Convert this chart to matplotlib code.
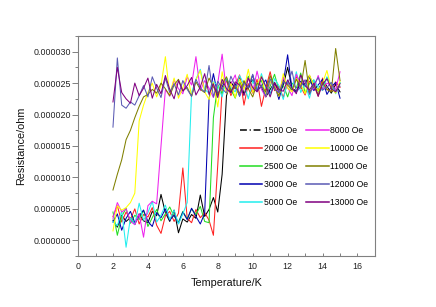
import numpy as np
import matplotlib
matplotlib.use('Agg')
import matplotlib.pyplot as plt
from matplotlib.lines import Line2D
from matplotlib.ticker import MultipleLocator, FormatStrFormatter

plt.rcParams['font.family'] = ['Liberation Sans', 'DejaVu Sans']

# temperature grid (K)
temperature = [2.0, 2.25, 2.5, 2.75, 3.0, 3.25, 3.5, 3.75, 4.0, 4.25,
               4.5, 4.75, 5.0, 5.25, 5.5, 5.75, 6.0, 6.25, 6.5, 6.75,
               7.0, 7.25, 7.5, 7.75, 8.0, 8.25, 8.5, 8.75, 9.0, 9.25,
               9.5, 9.75, 10.0, 10.25, 10.5, 10.75, 11.0, 11.25, 11.5, 11.75,
               12.0, 12.25, 12.5, 12.75, 13.0, 13.25, 13.5, 13.75, 14.0, 14.25,
               14.5, 14.75, 15.0]

# resistance in micro-ohm, one list per field
r_1500 = [3.2, 2.1, 4.0, 3.0, 3.6, 2.5, 4.2, 3.1, 2.8, 4.6,
          3.9, 7.3, 4.4, 3.0, 4.8, 1.2, 3.4, 2.9, 4.1, 3.5,
          7.2, 3.8, 4.9, 6.8, 4.5, 10.5, 23.0, 25.2, 24.1, 26.0,
          23.2, 24.7, 25.5, 23.9, 24.4, 22.8, 24.0, 25.1, 23.5, 24.6,
          27.5, 24.2, 23.7, 25.0, 24.9, 26.2, 24.3, 23.8, 25.4, 24.5,
          23.4, 24.8, 23.6]
r_2000 = [3.8, 5.5, 2.9, 4.5, 3.3, 5.0, 2.6, 4.1, 3.7, 5.2,
          2.4, 1.1, 3.9, 4.6, 3.0, 4.3, 11.5, 3.5, 2.8, 4.9,
          3.6, 4.4, 3.2, 0.8, 12.0, 24.0, 25.4, 23.0, 24.6, 26.3,
          21.5, 24.9, 23.4, 25.6, 21.3, 24.2, 26.8, 23.8, 24.5, 22.7,
          25.1, 23.9, 26.0, 24.4, 23.1, 25.3, 24.7, 22.9, 25.8, 24.0,
          23.7, 25.2, 24.3]
r_2500 = [4.5, 0.8, 3.8, 5.1, 2.7, 4.0, 3.3, 4.8, 2.2, 3.6,
          4.9, 3.1, 4.2, 5.3, 3.8, 2.9, 4.6, 3.4, 5.0, 4.1,
          5.4, 3.0, 2.8, 19.5, 24.8, 23.3, 25.7, 24.0, 22.6, 25.1,
          24.3, 26.1, 23.6, 24.8, 25.4, 23.0, 24.5, 26.4, 23.9, 24.7,
          22.8, 25.0, 24.2, 26.6, 23.4, 24.9, 25.5, 23.7, 24.1, 25.9,
          24.6, 23.5, 25.0]
r_3000 = [2.9, 4.2, 1.6, 3.5, 4.6, 2.8, 3.9, 4.8, 3.0, 2.2,
          4.4, 3.6, 5.0, 3.2, 4.0, 2.7, 4.5, 3.3, 5.1, 3.8,
          2.6, 4.3, 22.5, 26.5, 23.1, 24.4, 25.8, 23.5, 24.9, 22.9,
          25.2, 24.1, 26.3, 23.7, 24.6, 25.5, 23.3, 24.8, 22.4, 25.0,
          29.5, 24.0, 23.6, 25.3, 24.5, 26.0, 23.8, 24.7, 25.6, 23.2,
          24.4, 25.1, 22.6]
r_5000 = [3.0, 2.3, 4.7, -1.1, 3.6, 2.5, 5.9, 3.2, 4.4, 6.2,
          2.9, 4.0, 5.6, 3.3, 4.8, 2.6, 4.2, 6.0, 23.5, 25.6,
          27.2, 24.0, 23.4, 25.2, 24.6, 22.8, 25.9, 24.3, 23.6, 26.2,
          24.8, 22.5, 25.4, 23.9, 26.5, 24.2, 23.1, 25.7, 24.6, 22.4,
          25.3, 24.0, 26.8, 23.5, 24.9, 22.6, 25.5, 24.4, 23.8, 26.0,
          24.7, 23.3, 25.1]
r_8000 = [3.5, 6.0, 4.5, 5.0, 3.0, 2.5, 4.2, 0.5, 5.5, 6.2,
          5.8, 15.0, 24.0, 22.9, 25.5, 24.1, 23.3, 26.0, 24.7, 29.2,
          23.8, 25.4, 24.2, 22.7, 25.0, 29.6, 23.5, 24.8, 26.3, 23.1,
          24.5, 25.8, 23.6, 26.9, 24.0, 22.8, 25.2, 24.6, 23.4, 25.9,
          24.3, 23.0, 26.4, 24.8, 25.5, 23.7, 24.1, 26.2, 23.9, 25.0,
          24.6, 24.0, 26.8]
r_10000 = [1.5, 5.5, 4.8, 5.2, 6.0, 7.5, 19.0, 21.5, 23.5, 25.0,
           22.8, 24.6, 29.2, 23.2, 25.8, 22.6, 24.3, 26.4, 23.0, 25.5,
           27.0, 23.6, 22.4, 25.1, 21.2, 26.8, 23.3, 24.9, 22.7, 25.6,
           24.0, 27.2, 23.5, 24.8, 26.1, 23.0, 25.3, 24.4, 22.9, 26.5,
           24.2, 23.6, 25.7, 24.9, 23.3, 26.3, 24.5, 23.8, 25.0, 27.0,
           24.1, 23.4, 25.3]
r_11000 = [8.0, 10.5, 12.8, 16.0, 17.5, 19.5, 21.3, 22.8, 23.2, 24.0,
           23.4, 25.0, 24.1, 23.0, 24.7, 25.6, 23.8, 24.3, 22.9, 25.2,
           24.0, 23.5, 25.8, 24.4, 23.2, 24.9, 26.0, 23.7, 24.6, 23.3,
           25.4, 24.1, 22.8, 25.0, 24.5, 23.6, 26.2, 24.3, 23.0, 25.3,
           24.7, 23.9, 25.6, 24.2, 28.6, 23.4, 24.8, 23.1, 25.1, 24.0,
           23.6, 30.5, 25.4]
r_12000 = [18.0, 29.0, 21.5, 21.0, 22.0, 21.5, 23.0, 24.6, 22.8, 26.0,
           24.2, 22.7, 25.8, 23.5, 24.9, 23.1, 25.4, 24.0, 22.9, 25.6,
           24.2, 23.6, 27.8, 22.8, 25.3, 24.1, 23.4, 26.1, 24.5, 23.0,
           25.0, 24.3, 26.4, 23.8, 24.6, 22.9, 25.7, 24.0, 23.5, 25.2,
           24.8, 26.9, 23.6, 24.4, 25.5, 23.2, 24.7, 25.9, 23.9, 24.3,
           25.1, 23.7, 24.5]
r_13000 = [22.0, 27.5, 23.5, 22.5, 21.8, 25.0, 23.0, 24.2, 25.8, 22.6,
           24.8, 23.3, 26.2, 24.0, 22.5, 25.4, 23.7, 24.6, 25.9, 23.1,
           24.4, 26.5, 23.2, 24.9, 22.7, 25.6, 24.1, 23.5, 25.2, 24.7,
           23.0, 25.8, 24.3, 23.6, 26.0, 24.5, 22.8, 25.1, 24.0, 23.7,
           25.5, 24.2, 23.3, 26.3, 24.6, 23.9, 25.0, 22.9, 24.8, 25.7,
           24.1, 23.6, 24.9]

fields = ['1500 Oe', '2000 Oe', '2500 Oe', '3000 Oe', '5000 Oe',
          '8000 Oe', '10000 Oe', '11000 Oe', '12000 Oe', '13000 Oe']
series = [r_1500, r_2000, r_2500, r_3000, r_5000,
          r_8000, r_10000, r_11000, r_12000, r_13000]
colors = ['black', '#ff2020', '#22dd22', '#0000b0', '#22eeee',
          '#ee22ee', '#ffff00', '#808000', '#5a5ab4', '#800080']

for s, f in zip(series, fields):
    if len(s) != len(temperature):
        raise ValueError(f, len(s))

fig = plt.figure(figsize=(4.36, 3.07), dpi=100)
ax = fig.add_axes([0.179, 0.166, 0.681, 0.717])

for s, f, c in zip(series, fields, colors):
    ax.plot(temperature, np.array(s) * 1e-6, color=c, lw=0.75, label=f)

ax.set_xlim(0, 17)
ax.set_ylim(-2.5e-6, 3.25e-5)
ax.xaxis.set_major_locator(MultipleLocator(2))
ax.xaxis.set_minor_locator(MultipleLocator(1))
ax.yaxis.set_major_locator(MultipleLocator(5e-6))
ax.yaxis.set_minor_locator(MultipleLocator(2.5e-6))
ax.yaxis.set_major_formatter(FormatStrFormatter('%.6f'))

for sp in ax.spines.values():
    sp.set_color('#808080')
    sp.set_linewidth(0.8)
ax.tick_params(axis='x', which='major', direction='in', length=2.5, width=0.7,
               color='#808080', labelsize=6.4, pad=4, labelcolor='#222222')
ax.tick_params(axis='x', which='minor', direction='in', length=2, width=0.7,
               color='#808080')
ax.tick_params(axis='y', which='major', direction='out', length=4.3, width=0.7,
               color='#808080', labelsize=6.4, pad=0.8, labelcolor='#222222')
ax.tick_params(axis='y', which='minor', direction='out', length=2, width=0.7,
               color='#808080')

ax.set_xlabel('Temperature/K', fontsize=7.8, labelpad=5, color='#111111')
ax.set_ylabel('Resistance/ohm', fontsize=7.8, labelpad=5, color='#111111')

handles = [Line2D([], [], color=c, lw=1.1) for c in colors]
handles[0] = Line2D([], [], color='black', lw=1.1, dashes=(4.5, 1.8, 0.8, 1.8))
order = [0, 1, 2, 3, 4, 5, 6, 7, 8, 9]
ax.legend([handles[i] for i in order], [fields[i] for i in order],
          ncol=2, frameon=False, fontsize=6.2, loc='upper left',
          bbox_to_anchor=(0.545, 0.59), borderpad=0, borderaxespad=0,
          handlelength=2.6, handletextpad=0.15, columnspacing=1.1,
          labelspacing=1.05)

fig.savefig('out.png', dpi=100)
